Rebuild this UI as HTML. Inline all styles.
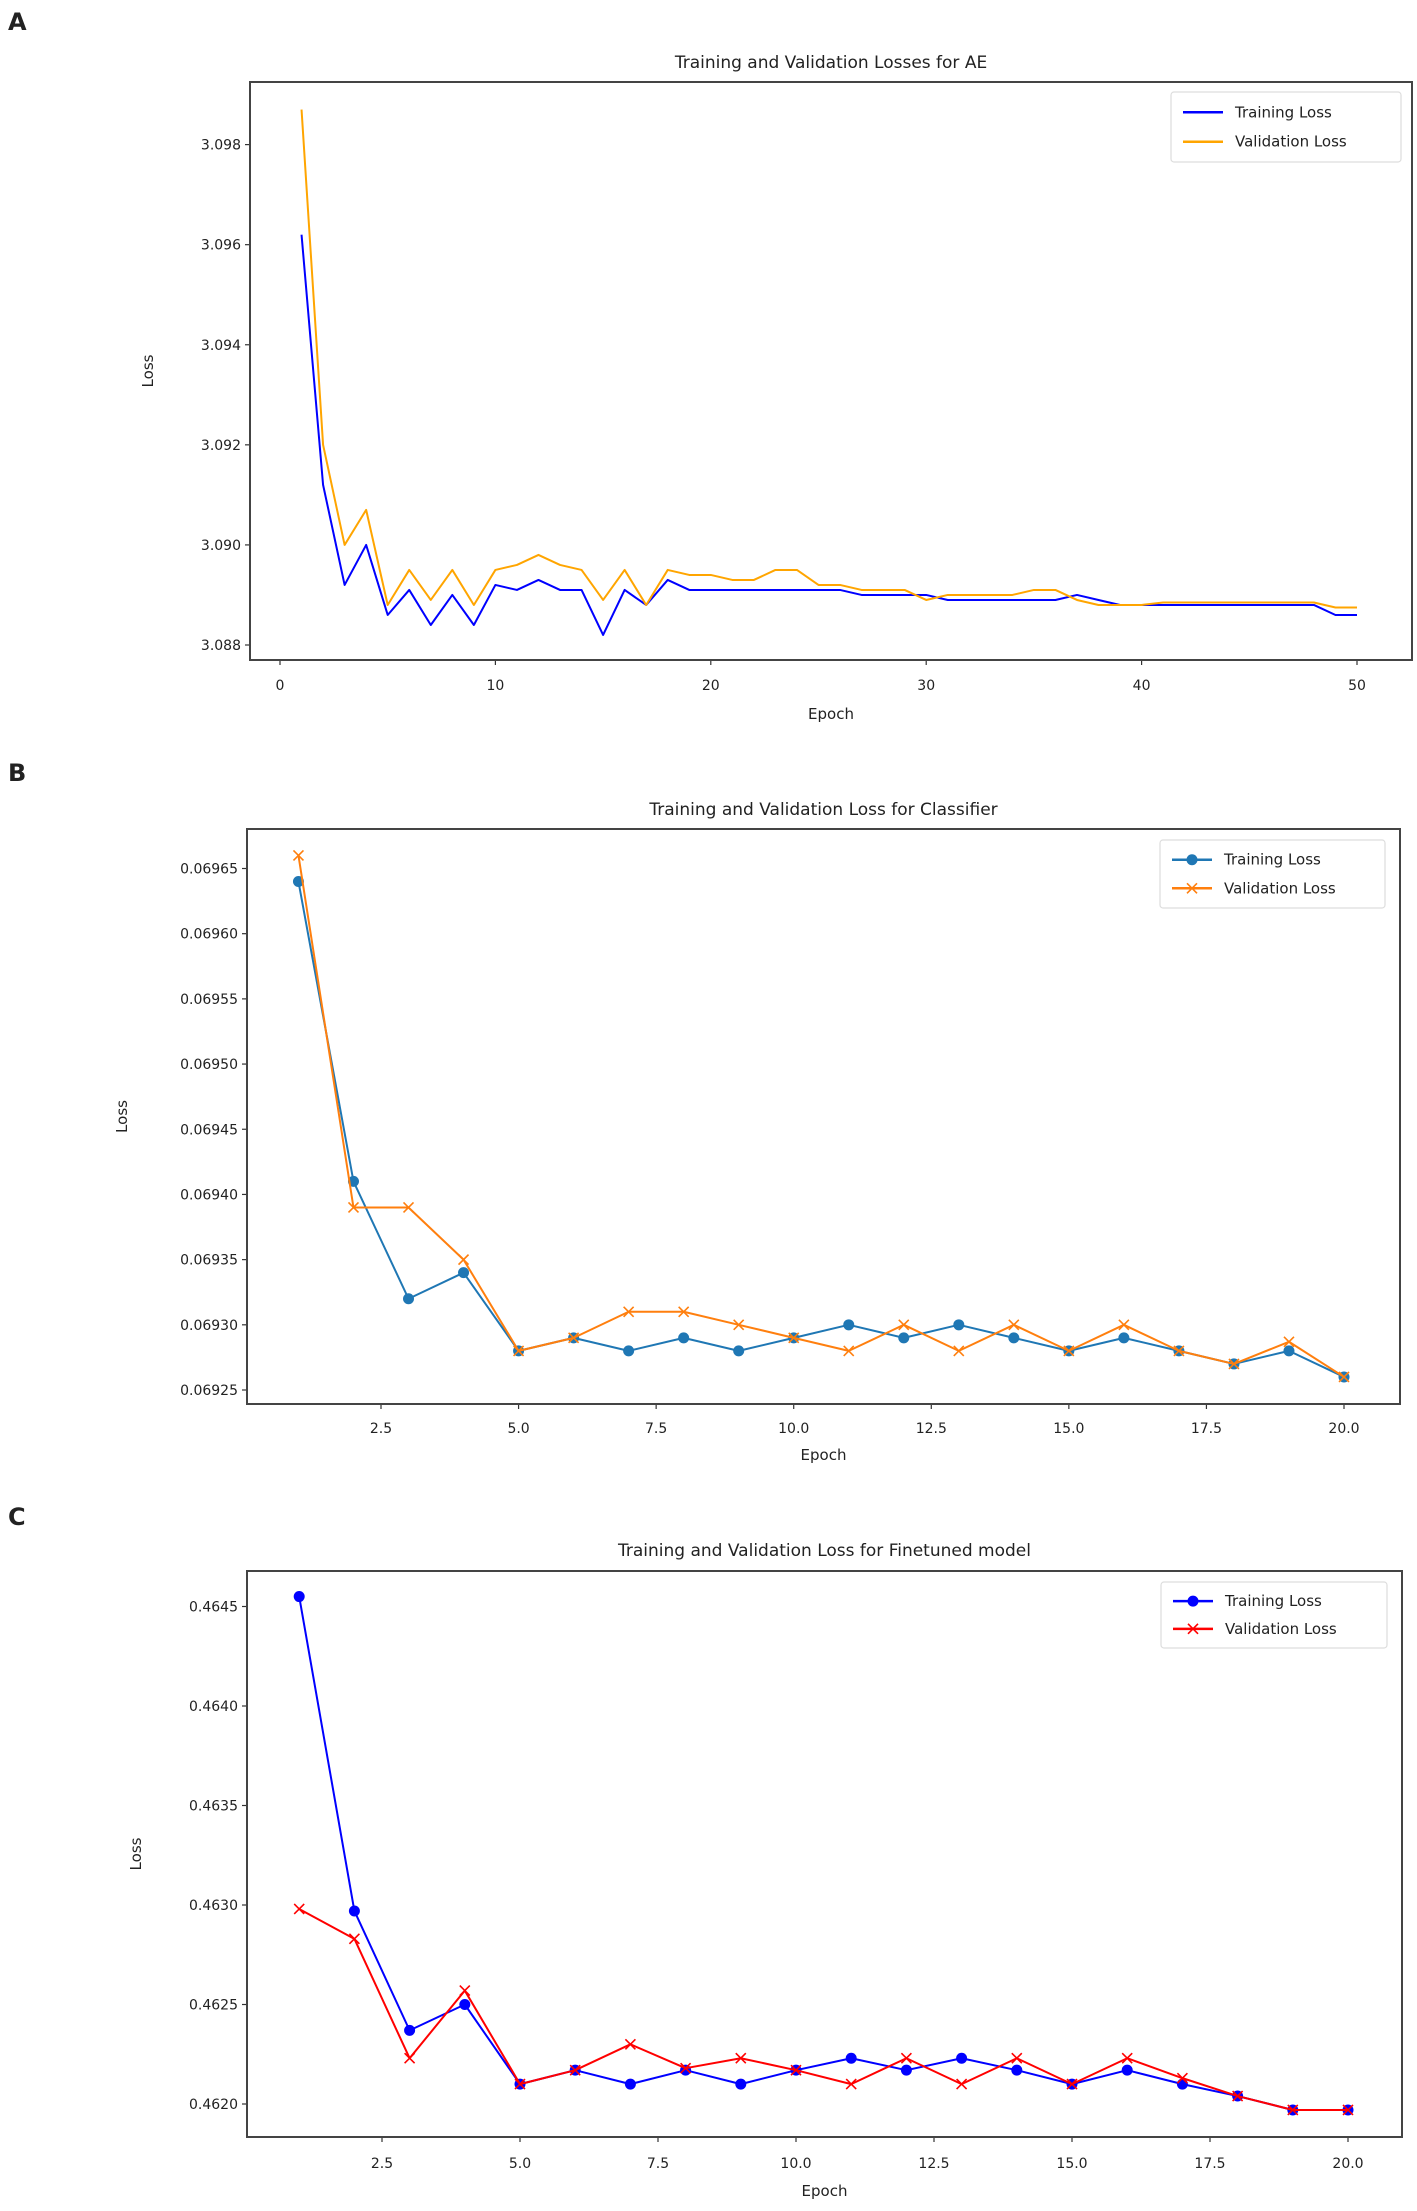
<!DOCTYPE html>
<html><head><meta charset="utf-8"><style>
body{margin:0;background:#fff;width:1417px;height:2211px;overflow:hidden}
svg{display:block}
text{font-family:"DejaVu Sans","Liberation Sans",sans-serif;fill:#222}
</style></head><body>
<svg id="fig" width="1417" height="2211" viewBox="0 0 1417 2211" xmlns="http://www.w3.org/2000/svg">
<text x="8" y="30" font-size="24" font-weight="bold">A</text>
<text x="8" y="781" font-size="24" font-weight="bold">B</text>
<text x="8" y="1525" font-size="24" font-weight="bold">C</text>
</svg>
<script>
const aEpochs = Array.from({length:50},(_,i)=>i+1);
const aTrain = [3.0962,3.0912,3.0892,3.0900,3.0886,3.0891,3.0884,3.0890,3.0884,3.0892,3.0891,3.0893,3.0891,3.0891,3.0882,3.0891,3.0888,3.0893,3.0891,3.0891,3.0891,3.0891,3.0891,3.0891,3.0891,3.0891,3.0890,3.0890,3.0890,3.0890,3.0889,3.0889,3.0889,3.0889,3.0889,3.0889,3.0890,3.0889,3.0888,3.0888,3.0888,3.0888,3.0888,3.0888,3.0888,3.0888,3.0888,3.0888,3.0886,3.0886];
const aVal = [3.0987,3.0920,3.0900,3.0907,3.0888,3.0895,3.0889,3.0895,3.0888,3.0895,3.0896,3.0898,3.0896,3.0895,3.0889,3.0895,3.0888,3.0895,3.0894,3.0894,3.0893,3.0893,3.0895,3.0895,3.0892,3.0892,3.0891,3.0891,3.0891,3.0889,3.0890,3.0890,3.0890,3.0890,3.0891,3.0891,3.0889,3.0888,3.0888,3.0888,3.08885,3.08885,3.08885,3.08885,3.08885,3.08885,3.08885,3.08885,3.08875,3.08875];
const aXTicks = [0,10,20,30,40,50];
const aYTicks = [3.088,3.090,3.092,3.094,3.096,3.098];
const aYLabels = ["3.088","3.090","3.092","3.094","3.096","3.098"];

const bEpochs = Array.from({length:20},(_,i)=>i+1);
const bTrain = [0.06964,0.06941,0.06932,0.06934,0.06928,0.06929,0.06928,0.06929,0.06928,0.06929,0.06930,0.06929,0.06930,0.06929,0.06928,0.06929,0.06928,0.06927,0.06928,0.06926];
const bVal = [0.06966,0.06939,0.06939,0.06935,0.06928,0.06929,0.06931,0.06931,0.06930,0.06929,0.06928,0.06930,0.06928,0.06930,0.06928,0.06930,0.06928,0.06927,0.069287,0.06926];
const bXTicks = [2.5,5,7.5,10,12.5,15,17.5,20];
const bYTicks = [0.06925,0.06930,0.06935,0.06940,0.06945,0.06950,0.06955,0.06960,0.06965];
const bYLabels = ["0.06925","0.06930","0.06935","0.06940","0.06945","0.06950","0.06955","0.06960","0.06965"];

const cEpochs = Array.from({length:20},(_,i)=>i+1);
const cTrain = [0.46455,0.46297,0.46237,0.46250,0.46210,0.46217,0.46210,0.46217,0.46210,0.46217,0.46223,0.46217,0.46223,0.46217,0.46210,0.46217,0.46210,0.46204,0.46197,0.46197];
const cVal = [0.46298,0.46283,0.46223,0.46257,0.46210,0.46217,0.46230,0.46218,0.46223,0.46217,0.46210,0.46223,0.46210,0.46223,0.46210,0.46223,0.46213,0.46204,0.46197,0.46197];
const cXTicks = [2.5,5,7.5,10,12.5,15,17.5,20];
const cYTicks = [0.4620,0.4625,0.4630,0.4635,0.4640,0.4645];
const cYLabels = ["0.4620","0.4625","0.4630","0.4635","0.4640","0.4645"];

const NS="http://www.w3.org/2000/svg";
const svg=document.getElementById('fig');
function mk(tag,attrs,parent){const e=document.createElementNS(NS,tag);for(const k in attrs)e.setAttribute(k,attrs[k]);(parent||svg).appendChild(e);return e;}

function chart(o){
  const g=mk('g',{});
  
  
  const xs=v=>o.x0px+(v-o.x0v)*(o.x1px-o.x0px)/(o.x1v-o.x0v);
  const ys=v=>o.y0px+(v-o.y0v)*(o.y1px-o.y0px)/(o.y1v-o.y0v);
  const t=mk('text',{x:(o.L+o.R)/2,y:o.titleY,'font-size':17,'text-anchor':'middle'},g);
  t.textContent=o.title;
  
  
  o.xTicks.forEach(v=>{
    const x=xs(v);
    mk('line',{x1:x,x2:x,y1:o.B,y2:o.B+5,stroke:'#333','stroke-width':1.2},g);
    const tl=mk('text',{x:x,y:o.tickY,'font-size':14,'text-anchor':'middle'},g);
    tl.textContent=o.xFmt(v);
    
    
  });
  o.yTicks.forEach((v,i)=>{
    const y=ys(v);
    mk('line',{x1:o.L-5,x2:o.L,y1:y,y2:y,stroke:'#333','stroke-width':1.2},g);
    const tl=mk('text',{x:o.L-9,y:y+5,'font-size':14,'text-anchor':'end'},g);
    tl.textContent=o.yLabels[i];
    
    
  });
  const xl=mk('text',{x:(o.L+o.R)/2,y:o.epochY,'font-size':15,'text-anchor':'middle'},g);
  xl.textContent='Epoch';
  
  
  const cy=(o.T+o.B)/2;
  const yl=mk('text',{x:o.lossX,y:cy,'font-size':15,'text-anchor':'middle',transform:`rotate(-90 ${o.lossX} ${cy})`},g);
  yl.textContent='Loss';
  
  
  o.series.forEach(s=>{
    const pts=o.epochs.map((e,i)=>xs(e)+','+ys(s.data[i])).join(' ');
    const pl=mk('polyline',{points:pts,fill:'none',stroke:s.color,'stroke-width':2,'stroke-linejoin':'round'},g);
    
    
    if(s.marker){
      o.epochs.forEach((e,i)=>{
        const x=xs(e),y=ys(s.data[i]);
        let m;
        if(s.marker==='o'){m=mk('circle',{cx:x,cy:y,r:5.5,fill:s.color},g);}
        else{m=mk('path',{d:`M${x-5},${y-5}L${x+5},${y+5}M${x-5},${y+5}L${x+5},${y-5}`,stroke:s.color,'stroke-width':1.6},g);}
        
        
      });
    }
  });
  const frame=mk('rect',{x:o.L,y:o.T,width:o.R-o.L,height:o.B-o.T,fill:'none',stroke:'#444','stroke-width':2},g);
  
  
  const lg=mk('g',{},g);
  
  
  const [lx,ly,lw,lh]=o.legend;
  mk('rect',{x:lx,y:ly,width:lw,height:lh,fill:'#fff',stroke:'#ddd','stroke-width':1.2,rx:3},lg);
  o.series.forEach((s,i)=>{
    const yy=ly+lh*(i===0?0.29:0.71);
    mk('line',{x1:lx+12,x2:lx+52,y1:yy,y2:yy,stroke:s.color,'stroke-width':2.5},lg);
    if(s.marker==='o')mk('circle',{cx:lx+32,cy:yy,r:5.5,fill:s.color},lg);
    else if(s.marker==='x')mk('path',{d:`M${lx+27},${yy-5}L${lx+37},${yy+5}M${lx+27},${yy+5}L${lx+37},${yy-5}`,stroke:s.color,'stroke-width':1.6},lg);
    const lt=mk('text',{x:lx+64,y:yy+5,'font-size':15},lg);
    lt.textContent=s.label;
    
    
  });
}

chart({id:'ae',title:'Training and Validation Losses for AE',L:250,R:1412,T:82,B:660,
  x0v:0,x0px:280,x1v:50,x1px:1357,y0v:3.088,y0px:645,y1v:3.098,y1px:144.6,
  titleY:68,tickY:690,epochY:719,lossX:153,xTicks:aXTicks,xFmt:v=>String(v),yTicks:aYTicks,yLabels:aYLabels,
  epochs:aEpochs,legend:[1171,92,230,70],
  series:[{name:'training-loss',label:'Training Loss',color:'#0000ff',data:aTrain},{name:'validation-loss',label:'Validation Loss',color:'#ffa500',data:aVal}]});

chart({id:'classifier',title:'Training and Validation Loss for Classifier',L:247,R:1400,T:829,B:1404,
  x0v:2.5,x0px:381,x1v:20,x1px:1344,y0v:0.06925,y0px:1390,y1v:0.06965,y1px:868.5,
  titleY:815,tickY:1433,epochY:1460,lossX:127,xTicks:bXTicks,xFmt:v=>v.toFixed(1),yTicks:bYTicks,yLabels:bYLabels,
  epochs:bEpochs,legend:[1160,840,225,68],
  series:[{name:'training-loss',label:'Training Loss',color:'#1f77b4',data:bTrain,marker:'o'},{name:'validation-loss',label:'Validation Loss',color:'#ff7f0e',data:bVal,marker:'x'}]});

chart({id:'finetuned',title:'Training and Validation Loss for Finetuned model',L:247,R:1402,T:1571,B:2137,
  x0v:2.5,x0px:382,x1v:20,x1px:1348,y0v:0.4620,y0px:2104,y1v:0.4645,y1px:1606.5,
  titleY:1556,tickY:2168,epochY:2196,lossX:141,xTicks:cXTicks,xFmt:v=>v.toFixed(1),yTicks:cYTicks,yLabels:cYLabels,
  epochs:cEpochs,legend:[1161,1582,226,66],
  series:[{name:'training-loss',label:'Training Loss',color:'#0000ff',data:cTrain,marker:'o'},{name:'validation-loss',label:'Validation Loss',color:'#ff0000',data:cVal,marker:'x'}]});
</script>
</body></html>
